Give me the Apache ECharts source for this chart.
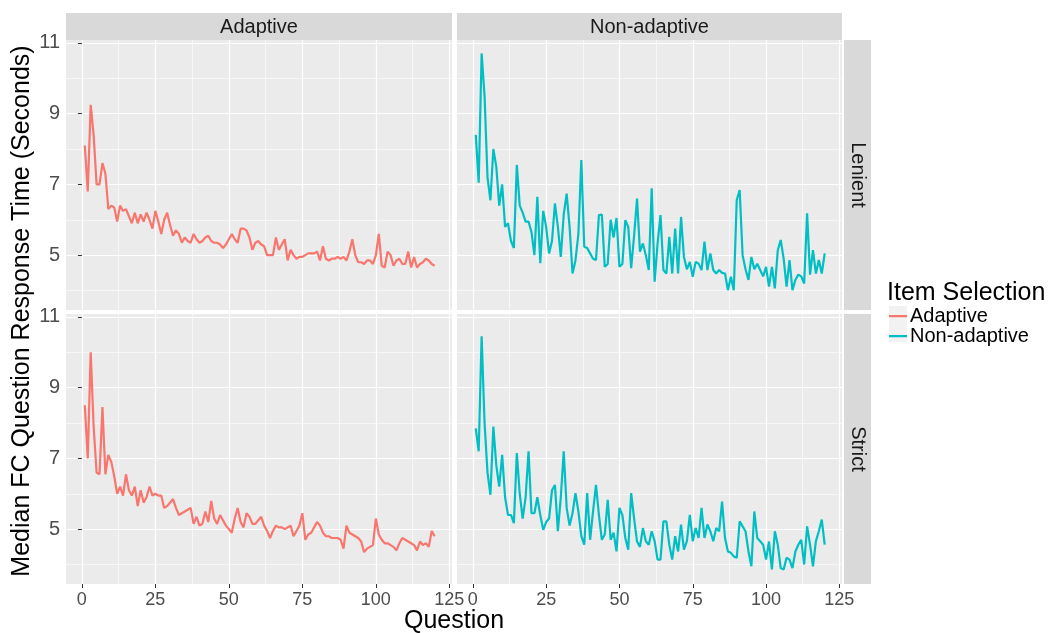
<!DOCTYPE html>
<html>
<head>
<meta charset="utf-8">
<script src="https://cdn.jsdelivr.net/npm/echarts@6/dist/echarts.min.js"></script>
<style>
html,body{margin:0;padding:0;background:#fff;}
#chart{width:1054px;height:633px;}
</style>
</head>
<body>
<div id="chart"></div>
<script>
// ---- data ----
const questions = Array.from({length: 120}, (_, i) => i + 1);
const columnLabels = ['Adaptive', 'Non-adaptive'];
const rowLabels = ['Lenient', 'Strict'];
const xTicks = [0, 25, 50, 75, 100, 125];
const xMinorTicks = [12.5, 37.5, 62.5, 87.5, 112.5];
const yTicks = [5, 7, 9, 11];
const yMinorTicks = [4, 6, 8, 10];

const adaptiveLenient = [
 8.1, 6.8, 9.25, 8.4, 7.0, 7.0, 7.6, 7.3, 6.3, 6.4,
 6.35, 5.95, 6.4, 6.25, 6.3, 6.1, 5.9, 6.2, 5.9, 6.15,
 5.95, 6.2, 6.0, 5.75, 6.25, 5.95, 5.6, 6.0, 6.2, 5.85,
 5.55, 5.7, 5.6, 5.35, 5.5, 5.4, 5.35, 5.6, 5.45, 5.35,
 5.4, 5.5, 5.55, 5.4, 5.35, 5.35, 5.3, 5.2, 5.3, 5.45,
 5.6, 5.45, 5.35, 5.75, 5.75, 5.7, 5.5, 5.15, 5.35, 5.4,
 5.3, 5.25, 5.0, 5.0, 5.0, 5.5, 5.15, 5.3, 5.45, 4.85,
 5.15, 5.0, 4.9, 4.95, 4.95, 5.0, 5.05, 5.05, 5.05, 5.1,
 4.85, 5.25, 4.9, 4.85, 4.9, 4.9, 4.95, 4.9, 4.95, 4.85,
 5.1, 5.45, 5.0, 4.8, 4.8, 4.75, 4.85, 4.85, 4.75, 5.0,
 5.6, 4.7, 4.65, 5.1, 5.0, 4.7, 4.85, 4.9, 4.75, 4.75,
 5.1, 4.65, 4.95, 4.65, 4.75, 4.8, 4.9, 4.85, 4.75, 4.7
];
const nonAdaptiveLenient = [
 8.4, 7.05, 10.7, 9.5, 7.2, 6.55, 8.0, 7.5, 6.4, 7.0,
 5.8, 5.9, 5.4, 5.2, 7.55, 6.4, 6.2, 5.95, 5.95, 5.65,
 5.0, 6.65, 4.77, 6.25, 5.8, 5.05, 5.4, 6.46, 5.8, 4.95,
 6.15, 6.74, 5.8, 4.48, 4.85, 5.6, 7.69, 5.24, 5.2, 5.05,
 4.9, 4.86, 6.13, 6.15, 4.67, 4.75, 6.0, 5.5, 6.05, 4.67,
 4.75, 5.99, 5.8, 4.63, 5.55, 6.6, 5.1, 5.33, 5.0, 4.58,
 6.89, 4.25, 5.33, 6.13, 4.58, 4.48, 5.52, 4.48, 5.75, 4.48,
 6.08, 4.95, 4.6, 4.81, 4.39, 4.81, 4.76, 4.58, 5.38, 4.58,
 5.05, 4.58, 4.48, 4.58, 4.5, 4.48, 4.01, 4.39, 4.01, 6.56,
 6.84, 5.0, 4.6, 4.3, 4.95, 4.6, 4.76, 4.58, 4.4, 4.67,
 4.11, 4.67, 4.06, 5.14, 5.43, 4.9, 4.11, 4.86, 4.01, 4.3,
 4.45, 4.4, 4.2, 6.18, 4.45, 5.14, 4.48, 4.86, 4.48, 5.05
];
const adaptiveStrict = [
 8.5, 7.0, 10.0, 7.9, 6.6, 6.55, 8.45, 6.55, 7.1, 6.9,
 6.5, 6.0, 6.2, 5.95, 6.55, 6.1, 5.95, 6.2, 5.65, 6.1,
 5.75, 5.9, 6.2, 5.95, 6.0, 5.95, 5.95, 5.6, 5.65, 5.75,
 5.85, 5.6, 5.4, 5.45, 5.5, 5.55, 5.6, 5.15, 5.35, 5.1,
 5.15, 5.5, 5.2, 5.8, 5.3, 5.15, 5.4, 5.25, 5.1, 5.0,
 4.9, 5.3, 5.6, 5.2, 5.05, 5.45, 5.35, 5.15, 5.15, 5.25,
 5.35, 5.1, 4.95, 4.75, 4.95, 5.1, 5.05, 5.05, 5.0, 5.05,
 5.1, 4.8, 4.95, 5.1, 5.45, 4.7, 4.85, 4.9, 5.05, 5.2,
 5.1, 4.9, 4.8, 4.8, 4.75, 4.75, 4.75, 4.7, 4.45, 5.1,
 4.9, 4.85, 4.8, 4.75, 4.65, 4.35, 4.45, 4.5, 4.55, 5.3,
 4.85, 4.7, 4.6, 4.6, 4.55, 4.5, 4.4, 4.6, 4.75, 4.7,
 4.65, 4.6, 4.55, 4.4, 4.65, 4.55, 4.6, 4.5, 4.95, 4.8
];
const nonAdaptiveStrict = [
 7.85, 7.2, 10.45, 8.0, 6.6, 5.97, 7.9, 6.8, 6.2, 7.1,
 5.9, 5.4, 5.4, 5.17, 7.15, 6.0, 5.3, 5.9, 7.2, 5.45,
 5.45, 5.9, 5.4, 4.98, 5.2, 5.3, 6.1, 6.25, 4.94, 5.9,
 7.2, 5.6, 5.1, 5.45, 6.02, 5.5, 4.8, 4.56, 6.02, 4.7,
 5.5, 6.25, 5.4, 4.7, 4.85, 5.83, 4.7, 4.9, 4.37, 5.6,
 5.4, 4.75, 4.42, 6.02, 5.3, 4.65, 4.5, 5.03, 4.66, 4.56,
 4.94, 4.66, 4.14, 4.14, 5.22, 5.22, 4.56, 4.14, 4.8, 4.37,
 5.13, 4.42, 4.66, 5.4, 4.66, 5.03, 4.75, 5.6, 4.75, 5.13,
 4.94, 4.66, 5.03, 4.94, 5.78, 4.75, 4.37, 4.33, 4.23, 4.19,
 5.22, 5.08, 4.94, 4.37, 3.95, 5.5, 4.75, 4.66, 4.56, 4.14,
 4.65, 3.86, 4.94, 4.56, 3.9, 3.86, 4.19, 4.14, 3.9, 4.37,
 4.56, 4.7, 4.0, 5.08, 4.56, 3.95, 4.66, 4.94, 5.27, 4.56
];

// ---- layout / style ----
const FONT = '"Liberation Sans", Arial, sans-serif';
const COLORS = {'Adaptive': '#F8766D', 'Non-adaptive': '#00BFC4'};
const panels = [
  {col: 0, row: 0, values: adaptiveLenient},
  {col: 1, row: 0, values: nonAdaptiveLenient},
  {col: 0, row: 1, values: adaptiveStrict},
  {col: 1, row: 1, values: nonAdaptiveStrict}
];
const colLeft = [66, 457], colWidth = [386, 385];
const rowTop = [40, 314], rowHeight = 270;
const X_MIN = -5.4, X_MAX = 125.9, Y_MIN = 3.45, Y_MAX = 11.08;

const grids = [], xAxes = [], yAxes = [], series = [];
panels.forEach((p, i) => {
  grids.push({left: colLeft[p.col], top: rowTop[p.row], width: colWidth[p.col], height: rowHeight,
    show: true, backgroundColor: '#EBEBEB', borderWidth: 0, containLabel: false});
  const showX = p.row === 1, showY = p.col === 0;
  xAxes.push({type: 'value', gridIndex: i, min: X_MIN, max: X_MAX,
    axisLine: {show: false},
    axisTick: {show: showX, length: 4, lineStyle: {color: '#333333', width: 1}, customValues: xTicks},
    axisLabel: {show: showX, customValues: xTicks, fontSize: 18, color: '#4D4D4D', margin: 7, fontFamily: FONT},
    splitLine: {show: true, lineStyle: {color: '#FFFFFF', width: 1.2}}
  });
  xAxes.push({type: 'value', gridIndex: i, min: X_MIN, max: X_MAX,
    axisLine: {show: false}, axisTick: {show: false, customValues: xMinorTicks},
    axisLabel: {show: false},
    splitLine: {show: true, lineStyle: {color: '#FFFFFF', width: 0.6}}
  });
  yAxes.push({type: 'value', gridIndex: i, min: Y_MIN, max: Y_MAX,
    axisLine: {show: false},
    axisTick: {show: showY, length: 4, lineStyle: {color: '#333333', width: 1}, customValues: yTicks},
    axisLabel: {show: showY, customValues: yTicks, fontSize: 20, color: '#4D4D4D', margin: 6, fontFamily: FONT},
    splitLine: {show: true, lineStyle: {color: '#FFFFFF', width: 1.2}}
  });
  yAxes.push({type: 'value', gridIndex: i, min: Y_MIN, max: Y_MAX,
    axisLine: {show: false}, axisTick: {show: false, customValues: yMinorTicks},
    axisLabel: {show: false},
    splitLine: {show: true, lineStyle: {color: '#FFFFFF', width: 0.6}}
  });
  const name = columnLabels[p.col];
  series.push({type: 'line', name: name, xAxisIndex: 2 * i, yAxisIndex: 2 * i,
    data: questions.map((q, k) => [q, p.values[k]]),
    showSymbol: false, symbol: 'none', color: COLORS[name],
    lineStyle: {width: 2.2, color: COLORS[name]}, z: 3, silent: true
  });
});

const graphics = [];
// top strips
columnLabels.forEach((lab, c) => {
  graphics.push({type: 'rect', shape: {x: colLeft[c], y: 13, width: colWidth[c], height: 27}, style: {fill: '#D9D9D9'}, silent: true});
  graphics.push({type: 'text', x: colLeft[c] + colWidth[c] / 2, y: 27,
    style: {text: lab, fontSize: 20, fontFamily: FONT, fill: '#1A1A1A', align: 'center', verticalAlign: 'middle'}});
});
// right strips
rowLabels.forEach((lab, r) => {
  graphics.push({type: 'rect', shape: {x: 844, y: rowTop[r], width: 27, height: rowHeight}, style: {fill: '#D9D9D9'}, silent: true});
  graphics.push({type: 'text', x: 857.5, y: rowTop[r] + rowHeight / 2, rotation: -Math.PI / 2,
    style: {text: lab, fontSize: 20, fontFamily: FONT, fill: '#1A1A1A', align: 'center', verticalAlign: 'middle'}});
});
// axis titles
graphics.push({type: 'text', x: 22, y: 311, rotation: Math.PI / 2,
  style: {text: 'Median FC Question Response Time (Seconds)', fontSize: 25, fontFamily: FONT, fill: '#000', align: 'center', verticalAlign: 'middle'}});
graphics.push({type: 'text', x: 454, y: 621,
  style: {text: 'Question', fontSize: 25, fontFamily: FONT, fill: '#000', align: 'center', verticalAlign: 'middle'}});
// legend key backgrounds
graphics.push({type: 'rect', shape: {x: 889, y: 306, width: 18, height: 18}, style: {fill: '#F2F2F2'}, z: -1, silent: true});
graphics.push({type: 'rect', shape: {x: 889, y: 324, width: 18, height: 18}, style: {fill: '#F2F2F2'}, z: -1, silent: true});

const option = {
  animation: false,
  backgroundColor: '#FFFFFF',
  textStyle: {fontFamily: FONT},
  title: {text: 'Item Selection', left: 887, top: 281, padding: 0,
    textStyle: {fontSize: 25, fontWeight: 'normal', color: '#000', fontFamily: FONT}},
  legend: {orient: 'vertical', left: 889, top: 306, padding: 0, itemGap: 0,
    itemWidth: 18, itemHeight: 18,
    icon: 'path://M0,0h0.01v18h-0.01z M0,8h18v2.2H0z',
    data: columnLabels,
    textStyle: {fontSize: 20, color: '#000', fontFamily: FONT, lineHeight: 18, padding: [0, 0, 0, -2]},
    selectedMode: false},
  grid: grids,
  xAxis: xAxes,
  yAxis: yAxes,
  series: series,
  graphic: graphics
};

const chart = echarts.init(document.getElementById('chart'), null, {renderer: 'canvas'});
chart.setOption(option);
</script>
</body>
</html>
